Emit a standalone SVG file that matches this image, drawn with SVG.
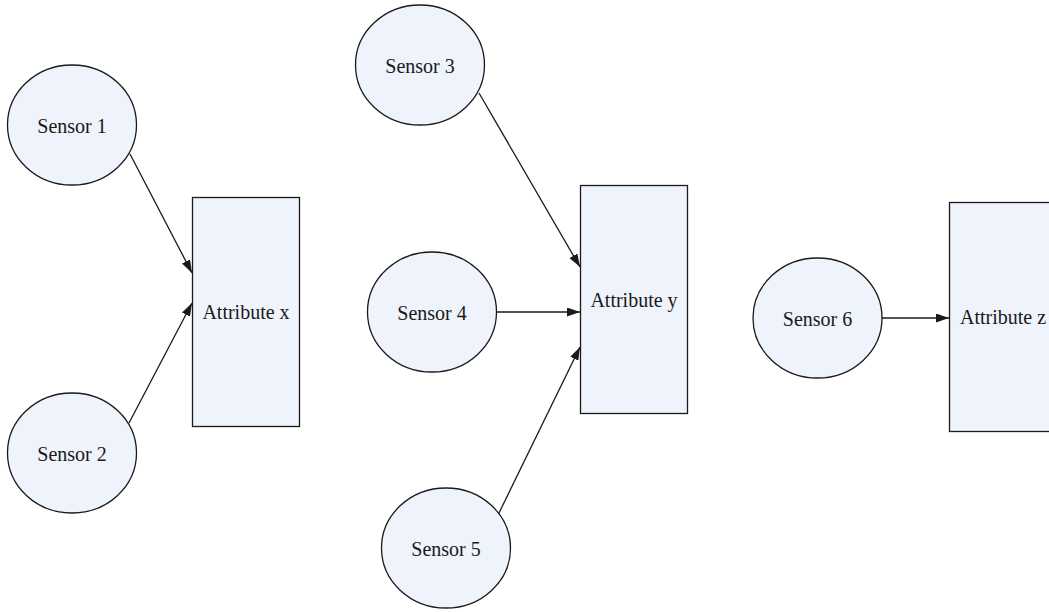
<svg xmlns="http://www.w3.org/2000/svg" width="1049" height="612" viewBox="0 0 1049 612">
<style>
.n{fill:#eff3fb;stroke:#1a1a1a;stroke-width:1.3}
.t{font-family:"Liberation Serif",serif;font-size:20px;fill:#1a1a1a;text-anchor:middle;dominant-baseline:central}
.c{stroke:#1a1a1a;stroke-width:1.3;fill:none;marker-end:url(#a)}
</style>
<defs>
<marker id="a" viewBox="0 0 13 9" refX="13" refY="4.5" markerWidth="13" markerHeight="9" markerUnits="userSpaceOnUse" orient="auto">
<path d="M0,0 L13,4.5 L0,9 Z" fill="#1a1a1a"/>
</marker>
</defs>
<rect width="1049" height="612" fill="#fff"/>
<g id="connectors">
<line class="c" x1="130" y1="154" x2="192" y2="273"/>
<line class="c" x1="129" y1="423" x2="192" y2="303"/>
<line class="c" x1="479" y1="93" x2="580" y2="267"/>
<line class="c" x1="497" y1="312" x2="580" y2="312"/>
<line class="c" x1="498" y1="515" x2="580" y2="347"/>
<line class="c" x1="882" y1="318" x2="949" y2="318"/>
</g>
<g id="sensor1"><ellipse class="n" cx="72" cy="125" rx="64.5" ry="60"/><text class="t" x="72" y="126">Sensor 1</text></g>
<g id="sensor2"><ellipse class="n" cx="72" cy="453" rx="64.5" ry="60"/><text class="t" x="72" y="454">Sensor 2</text></g>
<g id="sensor3"><ellipse class="n" cx="420" cy="65" rx="64.5" ry="60"/><text class="t" x="420" y="66">Sensor 3</text></g>
<g id="sensor4"><ellipse class="n" cx="432" cy="312" rx="64.5" ry="60"/><text class="t" x="432" y="313">Sensor 4</text></g>
<g id="sensor5"><ellipse class="n" cx="446" cy="548" rx="64.5" ry="60"/><text class="t" x="446" y="549">Sensor 5</text></g>
<g id="sensor6"><ellipse class="n" cx="817.5" cy="318" rx="64.5" ry="60"/><text class="t" x="817.5" y="319">Sensor 6</text></g>
<g id="attrx"><rect class="n" x="192.5" y="197.5" width="107" height="229"/><text class="t" x="246" y="312">Attribute x</text></g>
<g id="attry"><rect class="n" x="580.5" y="185.5" width="107" height="228"/><text class="t" x="634" y="300">Attribute y</text></g>
<g id="attrz"><rect class="n" x="949.5" y="202.5" width="107" height="229"/><text class="t" x="1003" y="317">Attribute z</text></g>
</svg>
